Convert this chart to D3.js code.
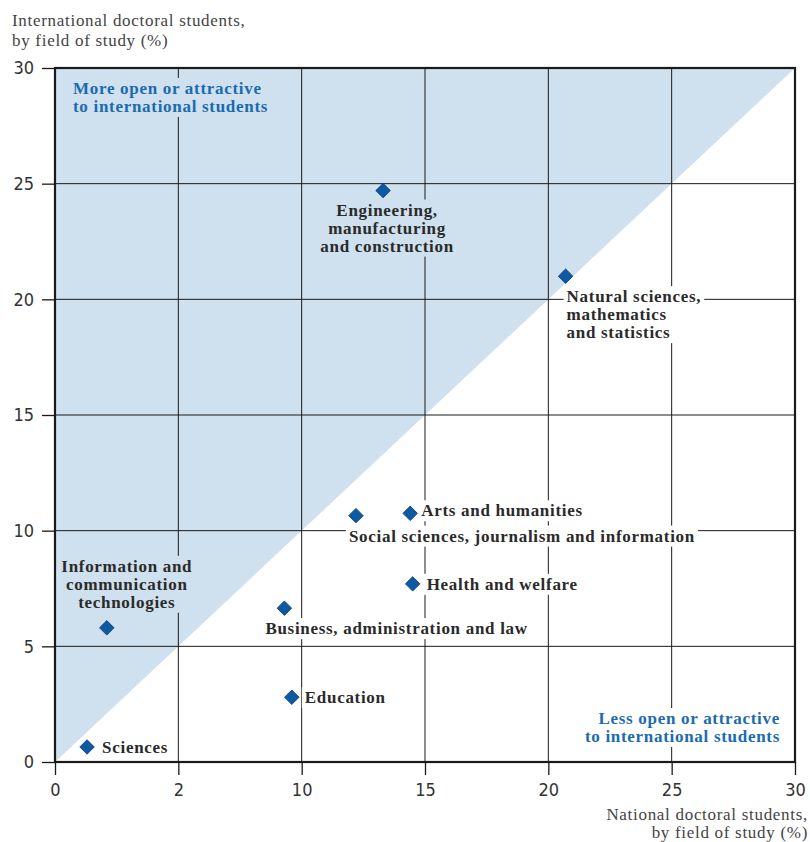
<!DOCTYPE html>
<html><head><meta charset="utf-8">
<script src="https://cdn.jsdelivr.net/npm/d3@7"></script>
<style>
body{margin:0;background:#fff;}
svg{display:block;}
.tick text{font-family:'Liberation Sans Narrow','DejaVu Sans Condensed',sans-serif;}
</style></head>
<body><svg id="c" width="810" height="842"></svg>
<script>
// ---- data ----
const fields = ["Sciences","Information and communication technologies","Business, administration and law","Education","Social sciences, journalism and information","Arts and humanities","Health and welfare","Engineering, manufacturing and construction","Natural sciences, mathematics and statistics"];
const nationalPct = [1.3, 2.1, 9.3, 9.6, 12.2, 14.4, 14.5, 13.3, 20.7];
const internationalPct = [0.65, 5.8, 6.65, 2.8, 10.65, 10.75, 7.7, 24.7, 21.0];
const labelLines = [["Sciences"],["Information and","communication","technologies"],["Business, administration and law"],["Education"],["Social sciences, journalism and information"],["Arts and humanities"],["Health and welfare"],["Engineering,","manufacturing","and construction"],["Natural sciences,","mathematics","and statistics"]];
const xTickValues = [0,5,10,15,20,25,30];
const xTickLabels = ["0","2","10","15","20","25","30"];
const yTickValues = [0,5,10,15,20,25,30];
const yTickLabels = ["0","5","10","15","20","25","30"];
const yTitle = ["International doctoral students,","by field of study (%)"];
const xTitle = ["National doctoral students,","by field of study (%)"];
const upperNote = ["More open or attractive","to international students"];
const lowerNote = ["Less open or attractive","to international students"];

// ---- layout (not data) ----
const labelLayout = [
 {dx:15, dy:0, anchor:"start", bg:"#fff"},
 {dx:20, dy:-62, anchor:"middle", bg:"#cfe0ee"},
 {dx:-19, dy:20, anchor:"start", bg:"#fff"},
 {dx:13, dy:0, anchor:"start", bg:"#fff"},
 {dx:-7, dy:20, anchor:"start", bg:"#fff"},
 {dx:11, dy:-3, anchor:"start", bg:"#fff"},
 {dx:14, dy:0, anchor:"start", bg:"#fff"},
 {dx:4, dy:19, anchor:"middle", bg:"#cfe0ee"},
 {dx:1, dy:20, anchor:"start", bg:"#fff"}
];
const svg = d3.select("#c");
const L=55,R=795,T=68,B=762;
const x = d3.scaleLinear().domain([0,30]).range([L,R]);
const y = d3.scaleLinear().domain([0,30]).range([B,T]);
const serif = "'Liberation Serif','DejaVu Serif',serif";
const lh = 18;

// triangle
svg.append("path")
  .attr("d", d3.line()([[x(0),y(0)],[x(0),y(30)],[x(30),y(30)]]) + "Z")
  .attr("fill","#cfe0ee");

// grid
svg.append("g").selectAll("line").data(xTickValues.slice(1,-1)).join("line")
  .attr("x1",d=>x(d)).attr("x2",d=>x(d)).attr("y1",T).attr("y2",B)
  .attr("stroke","#1a1a1a").attr("stroke-width",1);
svg.append("g").selectAll("line").data(yTickValues.slice(1,-1)).join("line")
  .attr("y1",d=>y(d)).attr("y2",d=>y(d)).attr("x1",L).attr("x2",R)
  .attr("stroke","#1a1a1a").attr("stroke-width",1);

// axes
const xAxis = d3.axisBottom(x).tickValues(xTickValues).tickFormat((d,i)=>xTickLabels[i]).tickSize(13).tickPadding(8);
const gx = svg.append("g").attr("transform",`translate(0,${B})`).call(xAxis);
gx.select(".domain").remove();
gx.selectAll(".tick line").attr("stroke","#1a1a1a").attr("stroke-width",1.3);
gx.selectAll(".tick text").attr("font-size",18).attr("fill","#333");
const yAxis = d3.axisLeft(y).tickValues(yTickValues).tickFormat((d,i)=>yTickLabels[i]).tickSize(13).tickPadding(8);
const gy = svg.append("g").attr("transform",`translate(${L},0)`).call(yAxis);
gy.select(".domain").remove();
gy.selectAll(".tick line").attr("stroke","#1a1a1a").attr("stroke-width",1.3);
gy.selectAll(".tick text").attr("font-size",18).attr("fill","#333");

// frame
svg.append("rect").attr("x",L).attr("y",T).attr("width",R-L).attr("height",B-T)
  .attr("fill","none").attr("stroke","#1a1a1a").attr("stroke-width",2.2);

// text blocks with background
function block(g, lines, px, py, anchor, style, bg){
  const t = g.append("text").attr("font-family",serif).attr("font-weight","bold")
    .attr("font-size",style.size).attr("letter-spacing",style.ls).attr("fill",style.fill).attr("text-anchor",anchor);
  lines.forEach((s,i)=>t.append("tspan").attr("x",px).attr("y",py+i*lh).attr("dy","0.35em").text(s));
  if(bg){
    const bb = t.node().getBBox();
    g.insert("rect","text").attr("x",bb.x-3).attr("y",bb.y-1).attr("width",bb.width+6).attr("height",bb.height+2).attr("fill",bg);
  }
  return t;
}
const labelStyle = {size:17, ls:0.7, fill:"#2a2a2a"};
const noteStyle = {size:17, ls:0.7, fill:"#1a6bb0"};
const notes = svg.append("g");
block(notes.append("g"), upperNote, 73, 88, "start", noteStyle, "#cfe0ee");
block(notes.append("g"), lowerNote, 780, 718, "end", noteStyle, "#fff");

// labels
const lg = svg.append("g");
fields.forEach((f,i)=>{
  const lay = labelLayout[i];
  block(lg.append("g"), labelLines[i], x(nationalPct[i])+lay.dx, y(internationalPct[i])+lay.dy, lay.anchor, labelStyle, lay.bg);
});

// points
svg.append("g").selectAll("path").data(fields).join("path")
  .attr("d", d3.symbol(d3.symbolSquare, 105)())
  .attr("transform",(d,i)=>`translate(${x(nationalPct[i])},${y(internationalPct[i])}) rotate(45)`)
  .attr("fill","#0b5aa6").attr("stroke","#173a66").attr("stroke-width",0.8);

// axis titles
const tt = svg.append("text").attr("font-family",serif).attr("font-size",17).attr("letter-spacing",0.7).attr("fill","#444");
yTitle.forEach((s,i)=>tt.append("tspan").attr("x",12).attr("y",20+i*20).attr("dy","0.35em").text(s));
const xt = svg.append("text").attr("font-family",serif).attr("font-size",17).attr("letter-spacing",0.7).attr("fill","#444").attr("text-anchor","end");
xTitle.forEach((s,i)=>xt.append("tspan").attr("x",808).attr("y",814+i*18).attr("dy","0.35em").text(s));
</script></body></html>
